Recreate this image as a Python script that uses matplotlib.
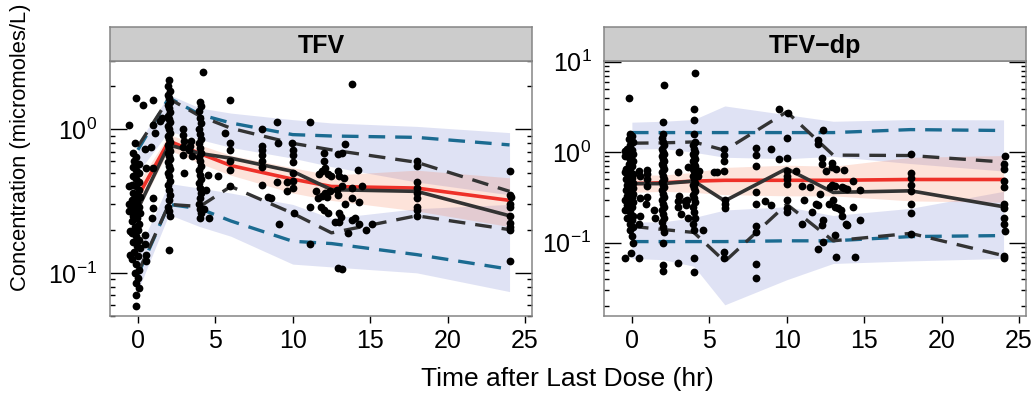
import matplotlib
matplotlib.use("Agg")
import matplotlib.pyplot as plt
import numpy as np
from matplotlib.ticker import LogLocator, NullFormatter, FixedLocator, FixedFormatter

plt.rcParams['font.family'] = ['Liberation Sans', 'DejaVu Sans']
plt.rcParams['mathtext.fontset'] = 'custom'
plt.rcParams['mathtext.rm'] = 'Liberation Sans'
plt.rcParams['mathtext.it'] = 'Liberation Sans:italic'
plt.rcParams['mathtext.bf'] = 'Liberation Sans:bold'

### TFV panel ###
bins_tfv = [0, 2, 4, 6, 10, 12.5, 18, 24]
obs_med_tfv = [0.28, 0.78, 0.68, 0.63, 0.51, 0.38, 0.37, 0.25]
obs_lo_tfv = [0.10, 0.30, 0.29, 0.40, 0.26, 0.19, 0.25, 0.20]
obs_hi_tfv = [0.76, 1.64, 1.24, 1.02, 0.80, 0.72, 0.59, 0.37]
sim_med_tfv = [0.34, 0.83, 0.68, 0.56, 0.45, 0.40, 0.39, 0.32]
sim_med_lo_tfv = [0.27, 0.72, 0.58, 0.48, 0.36, 0.32, 0.27, 0.21]
sim_med_hi_tfv = [0.42, 0.92, 0.78, 0.66, 0.54, 0.48, 0.52, 0.46]
sim_p95_tfv = [0.72, 1.66, 1.27, 1.11, 0.92, 0.90, 0.88, 0.78]
sim_p95_lo_tfv = [0.50, 0.97, 0.85, 0.75, 0.63, 0.55, 0.43, 0.35]
sim_p95_hi_tfv = [0.79, 1.75, 1.41, 1.30, 1.17, 1.11, 1.05, 0.95]
sim_p05_tfv = [0.097, 0.30, 0.28, 0.23, 0.166, 0.16, 0.134, 0.106]
sim_p05_lo_tfv = [0.075, 0.255, 0.21, 0.18, 0.115, 0.11, 0.10, 0.074]
sim_p05_hi_tfv = [0.14, 0.42, 0.39, 0.36, 0.30, 0.24, 0.28, 0.30]

obs_time_tfv = [
    -0.6, -0.11, 0.32, 0.96, -0.17, 0.47, 1.0, 1.1, 1.0, 0.5, 0.83, 1.0, 1.0, 0.47, 0.47, 0.5, 0.5, -0.5, -0.5, -0.55, -0.1,
    -0.3, -0.1, -0.25, 0.05, -0.3, -0.1, 0.1, -0.3, -0.15, 0.05, -0.35, -0.1, 0.1, -0.3, -0.1, 0.15, -0.35, -0.05, -0.25,
    0.1, -0.4, -0.1, 0.15, -0.3, -0.05, -0.35, 0.1, -0.2, 0.0, -0.4, -0.1, 0.1, -0.3, -0.05, 0.15, -0.25, 0.0, -0.35, -0.1,
    0.1, -0.2, 0.0, -0.15, 0.05, -0.1, -0.6, -0.55, 0.9,
    1.44, 1.55,
    2.0, 1.95, 2.05, 1.95, 2.0, 2.05, 1.95, 2.0, 2.05, 1.95, 2.0, 2.05, 1.95, 2.0, 2.05, 1.95, 2.0, 2.05, 1.95, 2.0, 2.05,
    1.95, 2.0, 2.05, 1.95, 2.0, 2.05, 1.95, 2.0, 2.05, 1.95, 2.0, 2.05, 2.0, 1.95, 2.0, 2.05, 2.0,
    2.94, 2.94, 3.0, 2.94, 2.94, 3.0, 3.37, 3.45, 3.5, 3.3,
    4.2, 4.0, 4.05, 3.95, 4.0, 4.05, 3.95, 4.0, 4.05, 3.95, 4.0, 4.05, 3.95, 4.0, 4.05, 3.95, 4.0, 4.05, 3.95, 4.0, 4.05,
    4.0, 3.95, 4.0, 4.05, 4.0, 4.6, 4.3, 4.4, 4.5,
    5.95, 5.6, 5.95, 5.95, 5.95, 5.95, 5.95, 5.2,
    8.0, 8.0, 8.0, 8.0, 8.0, 8.0, 8.0, 8.96, 9.05, 8.4, 9.1, 9.0, 8.6,
    9.93, 10.0, 10.0, 10.0, 10.0, 10.0, 10.0, 10.05, 9.6, 9.6, 11.1, 11.1, 11.1, 11.6,
    13.8, 13.4, 13.2, 12.9, 12.0, 12.0, 12.1, 11.9, 11.7, 11.5, 12.3, 12.5, 12.9, 13.0, 13.3, 14.2, 14.5, 13.8, 13.2,
    12.85, 12.4, 12.1, 11.9, 12.2, 12.9, 13.8, 14.3, 13.4, 11.8, 12.0, 12.3, 13.0, 13.1, 12.7, 13.0, 13.8, 14.0, 14.3,
    14.7, 15.1, 13.6, 12.9, 13.2,
    18.0, 18.05, 18.0, 18.0, 18.0, 18.0, 18.0, 18.0, 18.0,
    24.0, 24.0, 24.1, 24.0, 24.0, 24.0, 24.0, 24.0, 24.0, 24.0]
obs_conc_tfv = [
    1.08, 1.66, 1.47, 1.6, 0.81, 0.73, 1.08, 0.95, 0.54, 0.54, 0.75, 0.33, 0.284, 0.185, 0.16, 0.134, 0.121, 0.134, 0.195, 0.27, 0.0586,
    0.68, 0.64, 0.60, 0.57, 0.55, 0.52, 0.50, 0.47, 0.45, 0.43, 0.41, 0.40, 0.38, 0.36, 0.35, 0.34, 0.32, 0.31, 0.30,
    0.29, 0.28, 0.27, 0.26, 0.25, 0.24, 0.23, 0.22, 0.21, 0.20, 0.19, 0.18, 0.17, 0.165, 0.155, 0.15, 0.14, 0.13, 0.125, 0.115,
    0.105, 0.10, 0.092, 0.085, 0.079, 0.07, 0.40, 0.30, 0.24,
    1.14, 1.2,
    2.2, 2.0, 1.85, 1.75, 1.65, 1.55, 1.48, 1.4, 1.32, 1.25, 1.18, 1.12, 1.06, 1.0, 0.95, 0.9, 0.86, 0.82, 0.78, 0.74, 0.71,
    0.68, 0.65, 0.62, 0.59, 0.56, 0.53, 0.5, 0.47, 0.44, 0.41, 0.38, 0.35, 0.32, 0.29, 0.27, 0.25, 0.145,
    1.0, 0.92, 0.83, 0.75, 0.66, 0.5, 0.77, 0.83, 0.65, 0.72,
    2.5, 1.55, 1.45, 1.34, 1.2, 1.1, 1.0, 0.93, 0.86, 0.8, 0.74, 0.69, 0.64, 0.6, 0.56, 0.52, 0.48, 0.45, 0.42, 0.39, 0.36,
    0.33, 0.3, 0.28, 0.26, 0.24, 0.24, 0.28, 0.38, 0.48,
    1.6, 0.95, 0.81, 0.72, 0.6, 0.52, 0.40, 0.47,
    1.0, 0.77, 0.72, 0.66, 0.6, 0.55, 0.41, 1.12, 0.81, 0.34, 0.22, 0.43, 0.33,
    0.81, 0.72, 0.66, 0.59, 0.5, 0.44, 0.39, 0.26, 0.43, 0.37, 1.12, 0.29, 0.16, 0.33,
    2.06, 0.79, 0.69, 0.67, 0.69, 0.6, 0.54, 0.51, 0.485, 0.37, 0.485, 0.47, 0.51, 0.47, 0.46, 0.52, 0.4, 0.39, 0.4,
    0.38, 0.37, 0.36, 0.345, 0.34, 0.35, 0.33, 0.31, 0.30, 0.287, 0.276, 0.26, 0.26, 0.245, 0.225, 0.225, 0.235, 0.24, 0.22,
    0.2, 0.22, 0.19, 0.108, 0.107,
    0.60, 0.56, 0.43, 0.39, 0.36, 0.335, 0.29, 0.275, 0.25,
    0.51, 0.35, 0.34, 0.30, 0.287, 0.25, 0.224, 0.21, 0.20, 0.12]

### TFV-dp panel ###
bins_dp = [0, 2, 4, 6, 10, 13, 18, 24]
obs_med_dp = [0.45, 0.45, 0.48, 0.29, 0.66, 0.36, 0.375, 0.25]
obs_lo_dp = [0.152, 0.14, 0.13, 0.062, 0.266, 0.105, 0.127, 0.072]
obs_hi_dp = [1.26, 1.27, 1.3, 1.05, 2.8, 0.93, 0.92, 0.78]
sim_med_dp = [0.45, 0.46, 0.48, 0.49, 0.49, 0.49, 0.50, 0.50]
sim_med_lo_dp = [0.36, 0.37, 0.36, 0.34, 0.33, 0.33, 0.29, 0.28]
sim_med_hi_dp = [0.56, 0.56, 0.60, 0.68, 0.72, 0.70, 0.88, 0.92]
sim_p95_dp = [1.65, 1.65, 1.65, 1.65, 1.65, 1.65, 1.78, 1.74]
sim_p95_lo_dp = [1.08, 1.1, 1.0, 0.88, 0.85, 0.9, 0.75, 0.62]
sim_p95_hi_dp = [2.15, 2.2, 2.3, 3.25, 2.6, 2.2, 2.3, 2.28]
sim_p05_dp = [0.103, 0.103, 0.103, 0.103, 0.105, 0.105, 0.117, 0.12]
sim_p05_lo_dp = [0.067, 0.065, 0.055, 0.0206, 0.039, 0.059, 0.063, 0.067]
sim_p05_hi_dp = [0.17, 0.17, 0.19, 0.23, 0.25, 0.2, 0.24, 0.37]

obs_time_dp = [
    -0.17, -0.47, -0.47, -0.45,
    -0.1, 0.0, -0.2, 0.05, -0.1, -0.3, 0.0, -0.15, 0.05, -0.3, -0.1, 0.1, -0.2, 0.0, -0.35, -0.1, 0.1, -0.25, 0.0, -0.4,
    -0.15, 0.05, -0.3, -0.05, 0.1, -0.4, -0.15, 0.05, -0.3, 0.0, -0.45, -0.1, 0.1, -0.3, 0.0, -0.45, -0.15, 0.05, -0.3,
    0.0, -0.1, 0.05, -0.1, 0.0, 0.05, -0.47, -0.05, 0.47,
    0.47, 0.5, 1.0, 1.0, 0.95, 1.0, 1.0, 0.9, 1.44, 1.5, 0.5, 0.47, 0.5,
    2.09, 1.98, 2.0, 1.95, 2.0, 2.05, 1.95, 2.0, 2.05, 1.95, 2.0, 2.05, 1.95, 2.0, 2.05, 1.95, 2.0, 2.05, 1.95, 2.0, 2.05,
    1.95, 2.0, 2.05, 1.95, 2.0, 2.05, 1.95, 2.0, 2.05, 1.95, 2.0, 2.05, 2.0, 2.0, 2.0,
    3.05, 3.0, 3.6, 3.05, 3.0, 3.0, 3.45, 3.57, 3.5, 3.2, 3.6, 3.0,
    4.06, 4.0, 4.0, 4.0, 4.05, 3.95, 4.0, 4.05, 3.95, 4.0, 4.05, 3.95, 4.0, 4.05, 3.95, 4.0, 4.05, 3.95, 4.0, 4.05, 3.95,
    4.0, 4.05, 3.95, 4.0, 4.05, 3.95, 4.0, 4.05, 3.95, 4.0, 4.35, 4.3, 4.6, 4.0, 4.0,
    5.3, 5.5, 5.95, 5.95, 5.95, 5.95, 6.0, 6.0, 6.0, 5.95, 5.95,
    8.0, 8.0, 8.0, 8.0, 8.0, 8.0, 8.0, 8.0, 8.0, 8.6, 9.0, 9.0, 9.5, 9.5, 10.0, 10.1, 10.0, 10.0, 10.0, 10.0, 10.0,
    10.0, 10.0, 10.0, 10.6, 11.0, 11.0, 11.1, 11.5,
    12.36, 12.04, 12.04, 12.25, 12.3, 12.55, 12.9, 12.9, 13.2, 13.7, 14.3, 12.8, 12.9, 13.1, 13.55, 13.7, 13.9, 14.7,
    12.15, 11.9, 11.6, 12.04, 12.7, 13.0, 13.1, 13.3, 13.5, 13.6, 13.8, 13.9, 14.3, 14.7, 12.25, 12.36, 13.1, 12.36,
    12.04, 13.2, 14.4,
    18.0, 18.0, 18.0, 18.0, 18.0, 18.0, 18.0, 18.0,
    24.1, 24.0, 24.0, 24.0, 24.0, 24.0, 24.0, 24.0, 24.0, 24.1, 24.0, 24.0]
obs_conc_dp = [
    4.0, 1.03, 0.9, 0.6,
    1.6, 1.5, 1.4, 1.3, 1.2, 1.1, 1.05, 1.0, 0.95, 0.9, 0.85, 0.8, 0.75, 0.7, 0.66, 0.62, 0.58, 0.55, 0.52, 0.5,
    0.48, 0.46, 0.44, 0.42, 0.4, 0.38, 0.36, 0.35, 0.33, 0.32, 0.3, 0.29, 0.28, 0.26, 0.25, 0.23, 0.22, 0.2, 0.19,
    0.18, 0.16, 0.15, 0.14, 0.12, 0.1, 0.068, 0.078, 0.068,
    0.62, 0.55, 0.64, 0.57, 0.5, 0.42, 0.32, 0.27, 0.23, 0.19, 0.2, 0.16, 0.31,
    5.6, 2.18, 1.6, 1.45, 1.3, 1.2, 1.1, 1.0, 0.95, 0.9, 0.85, 0.8, 0.75, 0.7, 0.65, 0.6, 0.55, 0.5, 0.47, 0.44, 0.41,
    0.38, 0.35, 0.32, 0.3, 0.27, 0.25, 0.23, 0.21, 0.19, 0.17, 0.15, 0.13, 0.1, 0.057, 0.049,
    1.0, 0.6, 0.68, 0.33, 0.29, 0.25, 0.29, 0.30, 0.26, 0.21, 0.19, 0.06,
    7.6, 2.99, 2.3, 1.6, 1.3, 1.2, 1.1, 1.0, 0.95, 0.9, 0.85, 0.8, 0.75, 0.7, 0.66, 0.62, 0.58, 0.54, 0.5, 0.46, 0.43,
    0.4, 0.37, 0.34, 0.31, 0.28, 0.25, 0.22, 0.19, 0.16, 0.14, 0.62, 0.55, 0.14, 0.067, 0.048,
    0.6, 0.6, 1.08, 0.93, 0.8, 0.62, 0.3, 0.27, 0.24, 0.08, 0.067,
    1.12, 0.93, 0.7, 0.36, 0.27, 0.152, 0.13, 0.058, 0.041, 0.29, 0.26, 1.08, 2.99, 0.85, 1.45, 2.7, 0.87, 0.62, 0.55,
    0.5, 0.45, 0.3, 0.24, 0.22, 0.62, 0.16, 0.42, 0.3, 0.41,
    1.78, 1.35, 1.22, 0.87, 0.74, 0.62, 0.76, 0.68, 0.66, 0.64, 0.48, 0.41, 0.44, 0.42, 0.41, 0.4, 0.39, 0.38,
    0.35, 0.27, 0.22, 0.26, 0.265, 0.30, 0.25, 0.24, 0.23, 0.2, 0.16, 0.158, 0.25, 0.18, 0.157, 0.18, 0.122, 0.103,
    0.085, 0.07, 0.07,
    0.95, 0.59, 0.525, 0.43, 0.374, 0.266, 0.215, 0.126,
    0.92, 0.75, 0.65, 0.48, 0.41, 0.266, 0.245, 0.19, 0.16, 0.134, 0.072, 0.068]

ytick_vals_tfv = [0.1, 1.0]
ytick_labs_tfv = [r'$10^{-1}$', r'$10^{0}$']
ytick_vals_dp = [0.1, 1.0, 10.0]
ytick_labs_dp = [r'$10^{-1}$', r'$10^{0}$', r'$10^{1}$']

panels = [
    ('TFV', bins_tfv, obs_time_tfv, obs_conc_tfv, obs_med_tfv, obs_lo_tfv, obs_hi_tfv,
     sim_med_tfv, sim_med_lo_tfv, sim_med_hi_tfv, sim_p95_tfv, sim_p95_lo_tfv, sim_p95_hi_tfv,
     sim_p05_tfv, sim_p05_lo_tfv, sim_p05_hi_tfv, (0.05, 3.0), ytick_vals_tfv, ytick_labs_tfv),
    ('TFV\u2212dp', bins_dp, obs_time_dp, obs_conc_dp, obs_med_dp, obs_lo_dp, obs_hi_dp,
     sim_med_dp, sim_med_lo_dp, sim_med_hi_dp, sim_p95_dp, sim_p95_lo_dp, sim_p95_hi_dp,
     sim_p05_dp, sim_p05_lo_dp, sim_p05_hi_dp, (0.0155, 10.2), ytick_vals_dp, ytick_labs_dp),
]

band_blue = (0.35, 0.40, 0.78, 0.19)
band_red = (0.97, 0.45, 0.28, 0.20)
blue_dash = '#1b6b91'
dark = '#333333'
frame_col = '#858585'
dash = (5.0, 3.0)

fig = plt.figure(figsize=(10.36, 3.94), dpi=100)
W, H = 1036.0, 394.0
lefts = [110, 604]

for i, p in enumerate(panels):
    (name, tb, ot, oc, omed, olo, ohi, smed, smlo, smhi, s95, s95lo, s95hi,
     s05, s05lo, s05hi, ylim, yv, yl) = p
    ax = fig.add_axes([lefts[i] / W, (H - 316) / H, 422 / W, 255 / H])

    # prediction interval bands
    ax.fill_between(tb, s95lo, s95hi, color=band_blue, lw=0)
    ax.fill_between(tb, s05lo, s05hi, color=band_blue, lw=0)
    ax.fill_between(tb, smlo, smhi, color=band_red, lw=0)

    ax.plot(tb, s95, color=blue_dash, lw=2.4, dashes=dash)
    ax.plot(tb, s05, color=blue_dash, lw=2.4, dashes=dash)
    ax.plot(tb, smed, color='#ee3129', lw=2.6)
    ax.plot(tb, ohi, color=dark, lw=2.4, dashes=dash)
    ax.plot(tb, olo, color=dark, lw=2.4, dashes=dash)
    ax.plot(tb, omed, color=dark, lw=2.6)

    ax.plot(ot, oc, 'o', color='black', ms=5.6, mew=0, zorder=5)

    ax.set_yscale('log')
    ax.set_ylim(ylim)
    ax.set_xlim(-1.8, 25.45)
    ax.set_xticks([0, 5, 10, 15, 20, 25])
    ax.yaxis.set_major_locator(FixedLocator(yv))
    ax.yaxis.set_major_formatter(FixedFormatter(yl))
    ax.yaxis.set_minor_locator(LogLocator(base=10, subs=np.arange(2, 10)))
    ax.yaxis.set_minor_formatter(NullFormatter())
    ax.tick_params(axis='x', which='major', direction='out', length=5, width=1,
                   labelsize=18, pad=4, top=False)
    ax.tick_params(axis='y', which='major', direction='in', length=12, width=1,
                   labelsize=18, pad=9, right=True)
    ax.tick_params(axis='y', which='minor', direction='in', length=3.8, width=1, right=True)
    for s in ax.spines.values():
        s.set_color(frame_col)
        s.set_linewidth(1.1)

    # strip with panel name
    sax = fig.add_axes([lefts[i] / W, (H - 61) / H, 422 / W, 34 / H])
    sax.set_facecolor('#cccccc')
    sax.set_xticks([])
    sax.set_yticks([])
    for s in sax.spines.values():
        s.set_color(frame_col)
        s.set_linewidth(1.1)
    sax.text(0.5, 0.45, name, ha='center', va='center', fontsize=18, fontweight='bold',
             transform=sax.transAxes)

fig.text(21 / W, 1 - 147 / H, 'Concentration (micromoles/L)', rotation=90,
         ha='center', va='center', fontsize=15.8)
fig.text(567 / W, 1 - 379 / H, 'Time after Last Dose (hr)', ha='center', va='center', fontsize=19)

fig.savefig('out.png', dpi=100)
